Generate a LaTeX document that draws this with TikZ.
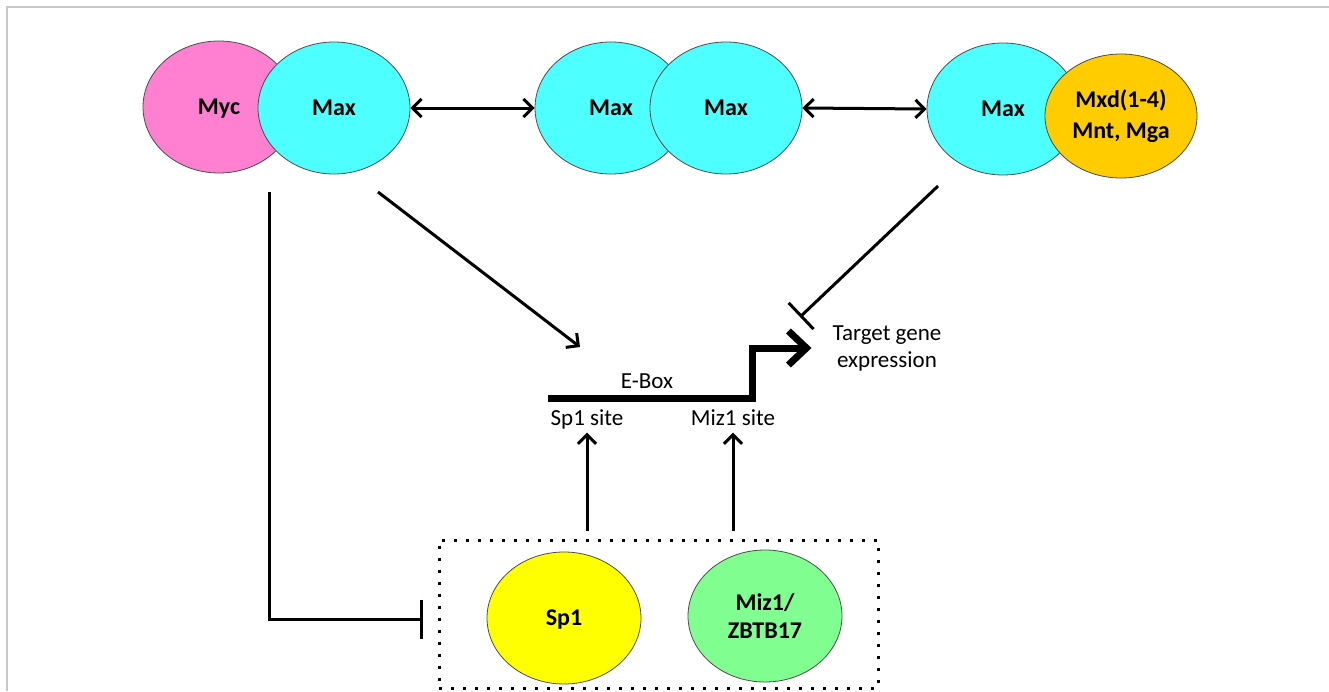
\documentclass[tikz,border=0pt]{standalone}
\usepackage{fontspec}
\setmainfont{Carlito}
\usetikzlibrary{arrows.meta,positioning,shapes.geometric}
\definecolor{mycpink}{RGB}{255,128,208}
\definecolor{maxcyan}{RGB}{77,255,255}
\definecolor{mxdgold}{RGB}{255,204,0}
\definecolor{spyellow}{RGB}{255,255,0}
\definecolor{mizgreen}{RGB}{128,255,144}
\definecolor{framegray}{RGB}{200,200,200}
\tikzset{
  prot/.style={draw=black!70, ellipse, line width=0.8pt, minimum width=152pt, minimum height=132pt, inner sep=0pt, align=center, font=\bfseries\fontsize{24}{28}\selectfont},
  note/.style={align=center, inner sep=2pt, font=\fontsize{23}{27}\selectfont},
  lbl/.style={note, text height=16pt, text depth=5pt},
  act/.style={-{Straight Barb[length=9pt,width=18pt]}, line width=3pt},
  dact/.style={{Straight Barb[length=9pt,width=18pt]}-{Straight Barb[length=9pt,width=18pt]}, line width=3pt},
  inh/.style={-{Bar[width=36pt]}, line width=3pt},
  prom/.style={-{Straight Barb[length=18pt,width=34pt]}, line width=7pt},
  dotbox/.style={draw, line width=3pt, dash pattern=on 3pt off 9pt, minimum width=439pt, minimum height=148pt, inner sep=0pt}
}
\begin{document}
\begin{tikzpicture}[x=1pt,y=-1pt]
\useasboundingbox (0,0) rectangle (1329,691);
\draw[framegray, line width=1.5pt] (1329,7) -- (7,7) -- (7,691);

% dimers
\node[prot, fill=mycpink, text depth=0pt] (myc) at (219,107) {Myc};
\node[prot, fill=maxcyan] (max1) at (334,108) {Max};
\node[prot, fill=maxcyan] (max2) at (611,108) {Max};
\node[prot, fill=maxcyan] (max3) at (726,108) {Max};
\node[prot, fill=maxcyan] (max4) at (1003,109) {Max};
\node[prot, fill=mxdgold, minimum height=124pt, font=\bfseries\fontsize{24}{31}\selectfont] (mxd) at (1121,116) {Mxd(1-4)\\Mnt, Mga};

% promoter
\node[note] (target) at (887,348) {Target gene\\expression};
\node[lbl] (ebox) at (647,383) {E-Box};
\node[lbl] (sp1site) at (587,420) {Sp1 site};
\node[lbl] (miz1site) at (733,420) {Miz1 site};
\coordinate (promstart) at (548,398);
\draw[prom] (promstart) -- (752,398) |- ([xshift=-19pt]target.west);

% repressors
\node[dotbox] (box) at (658.5,614) {};
\node[prot, fill=spyellow, minimum width=154pt, text depth=0pt] (sp1) at (564,618) {Sp1};
\node[prot, fill=mizgreen, minimum width=154pt] (miz1) at (765,616) {Miz1/\\ZBTB17};

\coordinate (mycmax) at (378,192);
\coordinate (eboxin) at (580,347);
\coordinate (mxdmax) at (938,186);
\coordinate (targetin) at (800,317);
\coordinate (mycdown) at (269,192);
\coordinate (boxin) at (423,619);

\draw[dact] (max1.east) -- (max2.west);
\draw[dact] (max3.east) -- (max4.west);
\draw[act] (mycmax) -- (eboxin);
\draw[inh] (mxdmax) -- (targetin);
\draw[inh, -{Bar[width=39pt]}] (mycdown) |- (boxin);
\draw[act] ([yshift=8pt]box.north -| sp1site) -- (sp1site.south);
\draw[act] ([yshift=8pt]box.north -| miz1site) -- (miz1site.south);
\end{tikzpicture}
\end{document}
